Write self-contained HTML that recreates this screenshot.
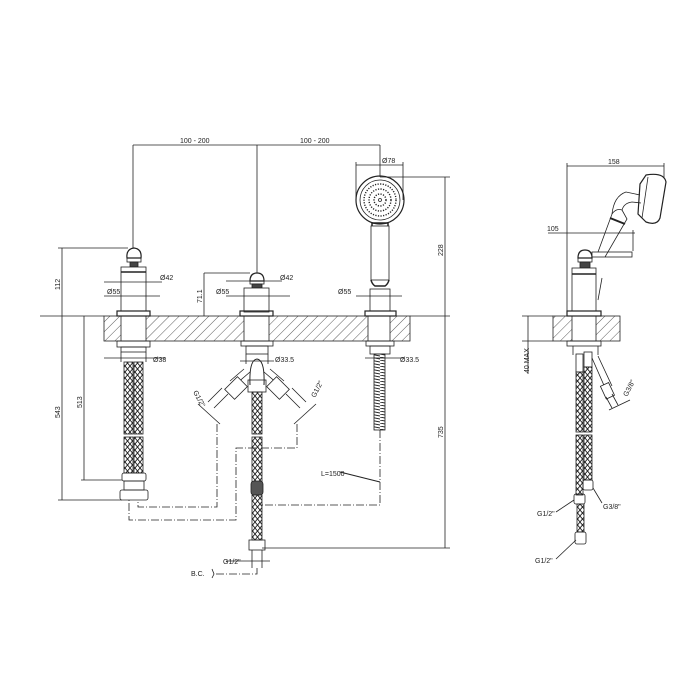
<!DOCTYPE html>
<html><head><style>
html,body{margin:0;padding:0;background:#fff;}
svg{display:block;}
text{font-family:"Liberation Sans",sans-serif;font-size:7px;fill:#222;}
</style></head><body>
<svg width="700" height="700" viewBox="0 0 700 700" xmlns="http://www.w3.org/2000/svg">
<defs>
<pattern id="hatch" width="7" height="7" patternUnits="userSpaceOnUse" patternTransform="rotate(45)">
<line x1="0" y1="0" x2="0" y2="7" stroke="#333" stroke-width="0.8"/>
</pattern>
<pattern id="braid" width="5" height="6" patternUnits="userSpaceOnUse">
<path d="M0 0L5 6M5 0L0 6" stroke="#222" stroke-width="0.9" fill="none"/>
</pattern>
<pattern id="coil" width="10" height="3" patternUnits="userSpaceOnUse">
<line x1="0" y1="0" x2="10" y2="2" stroke="#222" stroke-width="0.9"/>
</pattern>
</defs>
<g stroke="#222" fill="none" stroke-width="0.8">
<rect x="104" y="316" width="306" height="25" fill="url(#hatch)"/>
<rect x="121" y="316" width="25" height="25" fill="#fff"/>
<rect x="244" y="316" width="25" height="25" fill="#fff"/>
<rect x="368" y="316" width="22" height="25" fill="#fff"/>
<line x1="40" y1="316" x2="104" y2="316"/>
<line x1="410" y1="316" x2="450" y2="316"/>

<line x1="133" y1="145" x2="380" y2="145"/>
<line x1="133" y1="145" x2="133" y2="248"/>
<line x1="257" y1="145" x2="257" y2="273"/>
<line x1="380" y1="145" x2="380" y2="177"/>
<line x1="356" y1="165" x2="403" y2="165"/>
<line x1="356" y1="162" x2="356" y2="200"/>
<line x1="403" y1="162" x2="403" y2="200"/>

<!-- left valve -->
<path d="M127 258 Q126 249 134 248 Q142 249 141 258 Z" stroke-width="1.2"/>
<rect x="127" y="258" width="14" height="4"/>
<rect x="130" y="262" width="8" height="5" fill="#444"/>
<rect x="121" y="267" width="25" height="44" fill="#fff"/>
<line x1="121" y1="272" x2="146" y2="272" stroke-width="1.5"/>
<rect x="117" y="311" width="33" height="5" stroke-width="1.2"/>
<rect x="117" y="341" width="33" height="6"/>
<rect x="121" y="347" width="25" height="5"/>
<line x1="121" y1="352" x2="121" y2="362"/><line x1="146" y1="352" x2="146" y2="362"/>
<rect x="124" y="362" width="9" height="72" fill="url(#braid)"/>
<rect x="134" y="362" width="9" height="72" fill="url(#braid)"/>
<rect x="124" y="437" width="9" height="36" fill="url(#braid)"/>
<rect x="134" y="437" width="9" height="36" fill="url(#braid)"/>
<rect x="122" y="473" width="24" height="8" rx="2"/>
<rect x="124" y="481" width="20" height="9"/>
<rect x="120" y="490" width="28" height="10" rx="2"/>
<line x1="104" y1="282" x2="162" y2="282"/><line x1="104" y1="296" x2="160" y2="296"/>
<line x1="104" y1="358" x2="165" y2="358"/>
<line x1="58" y1="248" x2="128" y2="248"/>
<line x1="62" y1="248" x2="62" y2="316"/>
<line x1="62" y1="316" x2="62" y2="500"/>
<line x1="58" y1="500" x2="122" y2="500"/>
<line x1="84" y1="316" x2="84" y2="480"/>
<line x1="81" y1="480" x2="122" y2="480"/>

<!-- middle valve -->
<path d="M250 281 Q250 273 257 273 Q264 273 264 281 Z" stroke-width="1.2"/>
<rect x="250" y="281" width="14" height="3"/>
<rect x="252" y="284" width="10" height="4" fill="#444"/>
<rect x="244" y="288" width="25" height="24" fill="#fff"/>
<rect x="240" y="311" width="33" height="5" stroke-width="1.2"/>
<line x1="204" y1="273" x2="250" y2="273"/>
<line x1="204" y1="273" x2="204" y2="316"/>
<line x1="226" y1="281" x2="282" y2="281"/><line x1="226" y1="296" x2="290" y2="296"/>
<rect x="241" y="341" width="32" height="5"/>
<rect x="246" y="346" width="22" height="8"/>
<line x1="246" y1="354" x2="246" y2="364"/><line x1="268" y1="354" x2="268" y2="364"/>
<path d="M250 385 Q249 360 257 359 Q265 360 264 385" stroke-width="1"/>
<line x1="240" y1="361" x2="274" y2="361"/>
<path d="M250 372 L236 384 M244 369 L230 381" />
<rect x="229" y="379" width="14" height="18" transform="rotate(45 236 388)" fill="#fff"/>
<path d="M228 394 L214 408 M222 388 L208 402"/>
<path d="M264 372 L278 384 M270 369 L284 381" />
<rect x="271" y="379" width="14" height="18" transform="rotate(-45 278 388)" fill="#fff"/>
<path d="M286 394 L300 408 M292 388 L306 402"/>
<line x1="198" y1="404" x2="220" y2="424"/>
<line x1="316" y1="404" x2="294" y2="424"/>
<rect x="248" y="380" width="18" height="12"/>
<rect x="252" y="392" width="10" height="42" fill="url(#braid)"/>
<rect x="252" y="437" width="10" height="45" fill="url(#braid)"/>
<rect x="251" y="481" width="12" height="14" rx="3" fill="#555"/>
<rect x="252" y="495" width="10" height="45" fill="url(#braid)"/>
<rect x="249" y="540" width="16" height="10"/>
<line x1="252" y1="550" x2="252" y2="568"/><line x1="262" y1="550" x2="262" y2="568"/>
<line x1="226" y1="561" x2="270" y2="561"/>
<line x1="262" y1="548" x2="450" y2="548"/>
<line x1="445" y1="177" x2="445" y2="548"/>

<!-- hand shower -->
<circle cx="380" cy="200" r="24" stroke-width="1.2"/>
<circle cx="380" cy="200" r="20"/>
<circle cx="380" cy="200" r="16" stroke-dasharray="1.2 1.4" stroke-width="1.4"/>
<circle cx="380" cy="200" r="11" stroke-dasharray="1.2 1.4" stroke-width="1.4"/>
<circle cx="380" cy="200" r="6" stroke-dasharray="1.2 1.4" stroke-width="1.4"/>
<circle cx="380" cy="200" r="1.5"/>
<path d="M372 226 L372 223 L388 223 L388 226" stroke-width="1.5"/>
<rect x="371" y="226" width="18" height="54" fill="#fff"/>
<path d="M371 280 Q372 284 375 286 L385 286 Q388 284 389 280" stroke-width="1.5"/>
<rect x="370" y="289" width="20" height="22" fill="#fff"/>
<rect x="365" y="311" width="31" height="5" stroke-width="1.2"/>
<line x1="356" y1="296" x2="402" y2="296"/>
<line x1="380" y1="177" x2="450" y2="177"/>
<rect x="366" y="341" width="28" height="5"/>
<rect x="370" y="346" width="20" height="8"/>
<rect x="374" y="354" width="11" height="76" fill="url(#coil)"/>
<line x1="365" y1="358" x2="404" y2="358"/>
<line x1="340" y1="472" x2="380" y2="482" stroke-width="1"/>

<g stroke-dasharray="8 2 1 2" stroke-width="0.8">
<path d="M217 424 L217 507 L138 507 L138 500"/>
<path d="M297 424 L297 448 L236 448 L236 520 L129 520 L129 500"/>
<path d="M380 430 L380 505 L262 505"/>
<path d="M257 568 L257 574 L216 574"/>
</g>
<path d="M212 569 L214 574 L212 578"/>

<!-- side view -->
<rect x="553" y="316" width="67" height="25" fill="url(#hatch)"/>
<rect x="572" y="316" width="24" height="25" fill="#fff"/>
<line x1="522" y1="316" x2="553" y2="316"/><line x1="522" y1="341" x2="553" y2="341"/>
<line x1="528" y1="316" x2="528" y2="374"/>
<path d="M578 258 Q578 250 585 250 Q592 250 592 258 Z" stroke-width="1.2"/>
<rect x="578" y="258" width="14" height="4"/>
<rect x="580" y="262" width="10" height="6" fill="#444"/>
<rect x="572" y="268" width="24" height="43" fill="#fff"/>
<line x1="572" y1="274" x2="596" y2="274" stroke-width="1.5"/>
<rect x="567" y="311" width="34" height="5" stroke-width="1.2"/>
<rect x="592" y="252" width="40" height="5"/>
<path d="M598 252 L612 214 Q616 208 622 210 L627 219 L605 257 M602 278 L598 300" />
<path d="M612 214 Q614 196 626 192 L640 195 M622 210 Q624 203 632 202 L641 203"/>
<line x1="610" y1="218" x2="625" y2="224" stroke-width="2"/>
<path d="M640 184 L646 175 Q664 172 666 182 L660 218 Q657 226 646 222 L638 214 Z" stroke-width="1.2"/>
<line x1="648" y1="177" x2="642" y2="218"/>
<line x1="567" y1="166" x2="664" y2="166"/>
<line x1="567" y1="163" x2="567" y2="311"/>
<line x1="664" y1="163" x2="664" y2="178"/>
<line x1="548" y1="233" x2="635" y2="233"/>
<line x1="633" y1="230" x2="633" y2="251"/>
<rect x="567" y="341" width="34" height="5"/>
<line x1="573" y1="346" x2="573" y2="355"/><line x1="598" y1="346" x2="598" y2="355"/>
<rect x="576" y="354" width="7" height="18"/>
<rect x="584" y="352" width="8" height="15"/>
<rect x="576" y="372" width="7" height="60" fill="url(#braid)"/>
<rect x="584" y="367" width="8" height="65" fill="url(#braid)"/>
<rect x="576" y="435" width="7" height="60" fill="url(#braid)"/>
<rect x="584" y="435" width="8" height="45" fill="url(#braid)"/>
<rect x="583" y="480" width="10" height="10" rx="2"/>
<rect x="574" y="494" width="11" height="10" rx="2"/>
<rect x="577" y="504" width="7" height="28" fill="url(#braid)"/>
<rect x="575" y="532" width="11" height="12" rx="2"/>
<path d="M592 358 L606 390 M598 356 L612 386"/>
<rect x="603" y="384" width="9" height="14" transform="rotate(-25 607 391)" fill="#fff"/>
<path d="M606 397 L612 408 M612 394 L618 405"/>
<line x1="609" y1="410" x2="630" y2="400"/>
<line x1="556" y1="512" x2="574" y2="500"/>
<line x1="556" y1="559" x2="576" y2="540"/>
<line x1="602" y1="503" x2="593" y2="488"/>
</g>

<text x="180" y="143">100 - 200</text>
<text x="300" y="143">100 - 200</text>
<text x="382" y="163">Ø78</text>
<text x="160" y="280">Ø42</text>
<text x="107" y="294">Ø55</text>
<text x="280" y="280">Ø42</text>
<text x="216" y="294">Ø55</text>
<text x="338" y="294">Ø55</text>
<text x="153" y="362">Ø38</text>
<text x="275" y="362">Ø33.5</text>
<text x="400" y="362">Ø33.5</text>
<text x="321" y="476">L=1500</text>
<text x="223" y="564">G1/2"</text>
<text x="191" y="576">B.C.</text>
<text transform="translate(60,290) rotate(-90)">112</text>
<text transform="translate(202,303) rotate(-90)">71.1</text>
<text transform="translate(60,418) rotate(-90)">543</text>
<text transform="translate(82,408) rotate(-90)">513</text>
<text transform="translate(443,256) rotate(-90)">228</text>
<text transform="translate(443,438) rotate(-90)">735</text>
<text transform="translate(193,392) rotate(62)">G1/2"</text>
<text transform="translate(315,398) rotate(-62)">G1/2"</text>
<text x="608" y="164">158</text>
<text x="547" y="231">105</text>
<text transform="translate(529,373) rotate(-90)">40 MAX</text>
<text transform="translate(627,397) rotate(-62)">G3/8"</text>
<text x="537" y="516">G1/2"</text>
<text x="603" y="509">G3/8"</text>
<text x="535" y="563">G1/2"</text>
</svg>
</body></html>
